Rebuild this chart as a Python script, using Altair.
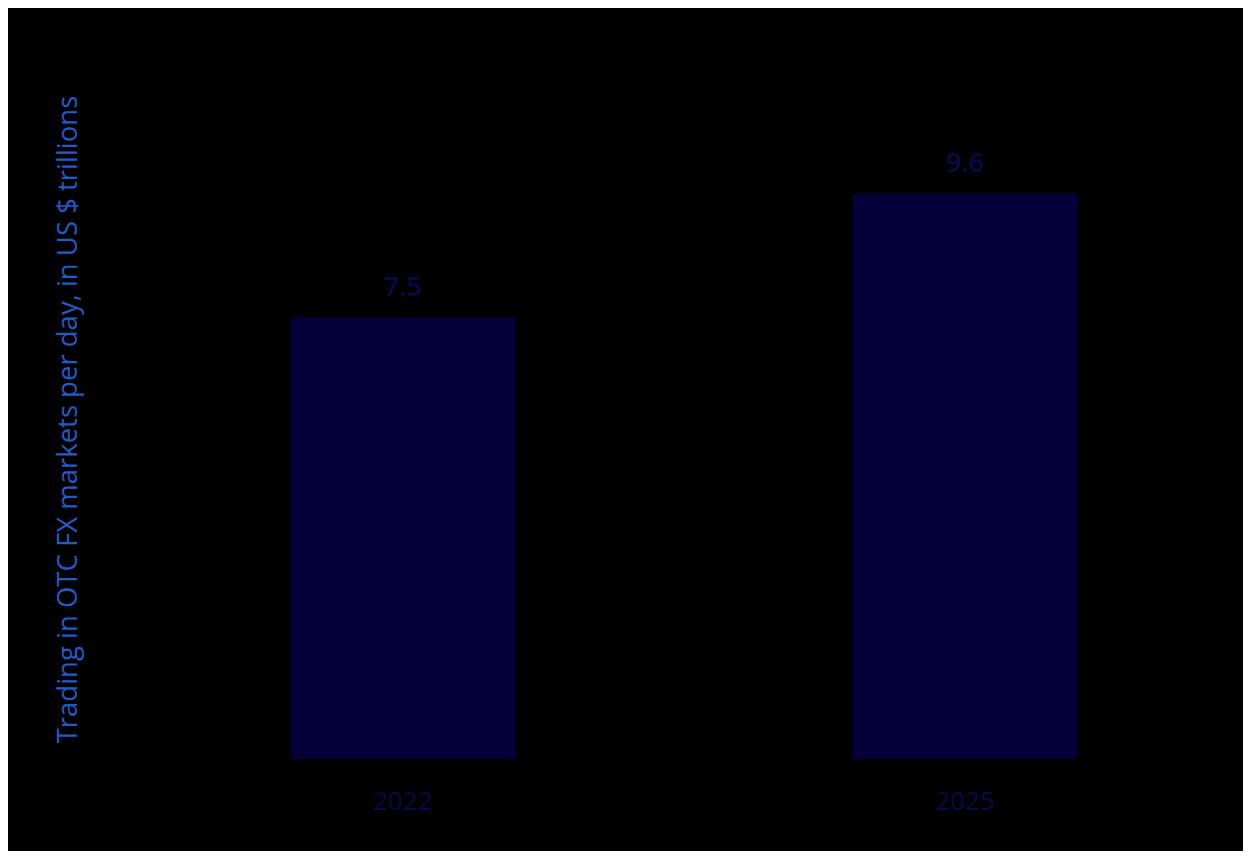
import altair as alt
import pandas as pd

years = ["2022", "2025"]
values = [7.5, 9.6]
labels = ["7.5", "9.6"]

df = pd.DataFrame({"year": years, "value": values, "label": labels})

FONT = "Open Sans"
TITLE = "Trading in OTC FX markets per day, in US $ trillions"

x = alt.X(
    "year:N",
    sort=years,
    scale=alt.Scale(paddingInner=0.6, paddingOuter=0.2),
    axis=alt.Axis(
        title=None, labelAngle=0, labelFontSize=26, labelFont=FONT,
        labelColor="#0b0848", labelPadding=29, ticks=False, domain=False,
        grid=False,
    ),
)
y = alt.Y(
    "value:Q",
    scale=alt.Scale(domain=[0, 12], nice=False, zero=True),
    axis=alt.Axis(
        title=TITLE, labels=False, ticks=False, domain=False, grid=False,
        titleFont=FONT, titleFontSize=27.5, titleFontWeight="normal",
        titleColor="#1f5cc8", titleAngle=270, titleX=-102, titleY=367,
        titleAlign="center", titleBaseline="alphabetic",
    ),
)

bars = alt.Chart(df).mark_bar(color="#06003a").encode(x=x, y=y)
text = alt.Chart(df).mark_text(
    baseline="bottom", dy=-15, fontSize=27, font=FONT, fontWeight=600,
    color="#0b0848"
).encode(x=x, y=y, text="label:N")

chart = (
    alt.layer(bars, text)
    .properties(
        width=1012, height=707, background="black",
        autosize=alt.AutoSizeParams(type="none"),
        padding={"left": 170, "top": 44, "right": 53, "bottom": 92},
    )
    .configure_view(stroke=None)
)

chart.save("out.html", embed_options={"renderer": "svg", "actions": False})
